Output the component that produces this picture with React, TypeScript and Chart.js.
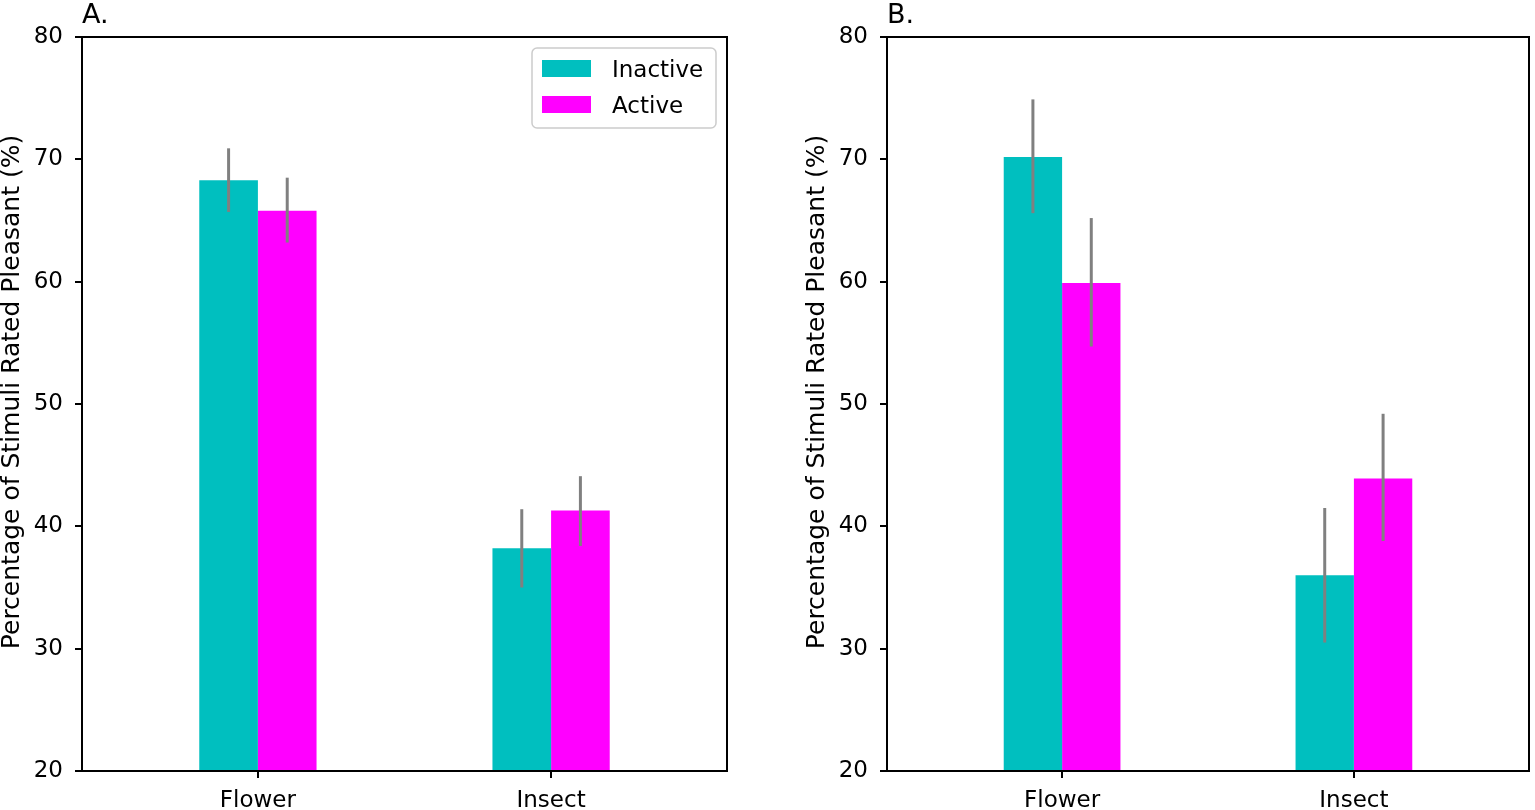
import { useEffect, useRef } from "react";
import { Chart, registerables, Plugin } from "chart.js";

Chart.register(...registerables);

const categories = ["Flower", "Insect"];
const seriesNames = ["Inactive", "Active"];
const seriesColors = ["#00BFBF", "#FF00FF"];
const yTicks = [20, 30, 40, 50, 60, 70, 80];
const yLabel = "Percentage of Stimuli Rated Pleasant (%)";

// panel A
const inactiveA = [68.3, 38.2];
const inactiveALow = [65.7, 35.0];
const inactiveAHigh = [70.9, 41.4];
const activeA = [65.8, 41.3];
const activeALow = [63.2, 38.4];
const activeAHigh = [68.5, 44.1];

// panel B
const inactiveB = [70.2, 36.0];
const inactiveBLow = [65.6, 30.5];
const inactiveBHigh = [74.9, 41.5];
const activeB = [59.9, 43.9];
const activeBLow = [54.7, 38.8];
const activeBHigh = [65.2, 49.2];

const FONT = "'DejaVu Sans', sans-serif";

interface PanelProps {
    title: string;
    values: number[][];
    lows: number[][];
    highs: number[][];
    legend: boolean;
    left: number;
    width: number;
    padRight: number;
}

const Panel = ({ title, values, lows, highs, legend, left, width, padRight }: PanelProps) => {
    const chartRef = useRef<HTMLCanvasElement>(null);

    useEffect(() => {
        if (!chartRef.current) return;

        const overlay: Plugin<"bar"> = {
            id: "overlay",
            afterDatasetsDraw(chart) {
                const ctx = chart.ctx;
                const y = chart.scales.y;
                ctx.save();
                ctx.strokeStyle = "#808080";
                ctx.lineWidth = 3;
                chart.data.datasets.forEach((_, di) => {
                    chart.getDatasetMeta(di).data.forEach((bar, i) => {
                        ctx.beginPath();
                        ctx.moveTo(bar.x, y.getPixelForValue(lows[di][i]));
                        ctx.lineTo(bar.x, y.getPixelForValue(highs[di][i]));
                        ctx.stroke();
                    });
                });
                ctx.restore();
            },
            afterDraw(chart) {
                const { ctx, chartArea: a } = chart;
                ctx.save();
                ctx.strokeStyle = "#000";
                ctx.lineWidth = 2;
                ctx.strokeRect(a.left, a.top, a.right - a.left, a.bottom - a.top);

                ctx.fillStyle = "#000";
                ctx.font = `27px ${FONT}`;
                ctx.textBaseline = "alphabetic";
                ctx.fillText(title, a.left, a.top - 14);

                // y axis label, matplotlib style
                ctx.save();
                ctx.translate(12, a.top + (a.bottom - a.top) / 2 - 12);
                ctx.rotate(-Math.PI / 2);
                ctx.font = `25px ${FONT}`;
                ctx.textAlign = "center";
                ctx.textBaseline = "middle";
                ctx.fillText(yLabel, 0, 0);
                ctx.restore();

                if (legend) {
                    const bx = a.right - 195, by = a.top + 11, bw = 184, bh = 80;
                    ctx.beginPath();
                    ctx.roundRect(bx, by, bw, bh, 5);
                    ctx.fillStyle = "rgba(255,255,255,0.8)";
                    ctx.fill();
                    ctx.strokeStyle = "#cccccc";
                    ctx.lineWidth = 1.5;
                    ctx.stroke();
                    ctx.font = `23px ${FONT}`;
                    seriesNames.forEach((name, i) => {
                        const rowY = by + 12 + i * 36;
                        ctx.fillStyle = seriesColors[i];
                        ctx.fillRect(bx + 10, rowY, 49, 17);
                        ctx.fillStyle = "#000";
                        ctx.fillText(name, bx + 80, rowY + 17);
                    });
                }
                ctx.restore();
            },
        };

        const chart = new Chart(chartRef.current, {
            type: "bar",
            data: {
                datasets: seriesNames.map((name, di) => ({
                    label: name,
                    data: categories.map((_, i) => ({ x: i, y: values[di][i] })),
                    backgroundColor: seriesColors[di],
                    borderWidth: 0,
                    categoryPercentage: 0.4,
                    barPercentage: 1,
                })),
            },
            options: {
                responsive: false,
                animation: false,
                layout: { padding: { top: 37, right: padRight, left: 0, bottom: 0 } },
                plugins: { legend: { display: false }, tooltip: { enabled: false } },
                scales: {
                    x: {
                        type: "linear",
                        min: -0.6,
                        max: 1.6,
                        offset: false,
                        afterBuildTicks: (s) => {
                            s.ticks = categories.map((_, i) => ({ value: i }));
                        },
                        afterFit: (s) => {
                            s.height = 39;
                        },
                        ticks: {
                            callback: (v) => categories[Number(v)],
                            color: "#000",
                            font: { family: FONT, size: 23 },
                            padding: 9,
                            maxRotation: 0,
                            autoSkip: false,
                        },
                        grid: {
                            offset: false,
                            drawOnChartArea: false,
                            drawTicks: true,
                            tickLength: 7,
                            color: "#000",
                            lineWidth: 2,
                        },
                        border: { display: true, color: "#000", width: 2 },
                    },
                    y: {
                        min: 20,
                        max: 80,
                        afterBuildTicks: (s) => {
                            s.ticks = yTicks.map((v) => ({ value: v }));
                        },
                        afterFit: (s) => {
                            s.width = 82;
                        },
                        ticks: {
                            color: "#000",
                            font: { family: FONT, size: 23 },
                            padding: 12,
                        },
                        grid: { drawOnChartArea: false, drawTicks: true, tickLength: 7, color: "#000", lineWidth: 2 },
                        border: { display: true, color: "#000", width: 2 },
                    },
                },
            },
            plugins: [overlay],
        });
        return () => {
            chart.destroy();
        };
    }, []);

    return (
        <canvas
            ref={chartRef}
            width={width}
            height={810}
            style={{ position: "absolute", left, top: 0, width, height: 810 }}
        />
    );
};

export default function App() {
    return (
        <div style={{ position: "fixed", left: 0, top: 0, width: 1535, height: 810, background: "#fff" }}>
            <Panel
                title="A."
                values={[inactiveA, activeA]}
                lows={[inactiveALow, activeALow]}
                highs={[inactiveAHigh, activeAHigh]}
                legend={true}
                left={0}
                width={805}
                padRight={78}
            />
            <Panel
                title="B."
                values={[inactiveB, activeB]}
                lows={[inactiveBLow, activeBLow]}
                highs={[inactiveBHigh, activeBHigh]}
                legend={false}
                left={805}
                width={730}
                padRight={6}
            />
        </div>
    );
}
